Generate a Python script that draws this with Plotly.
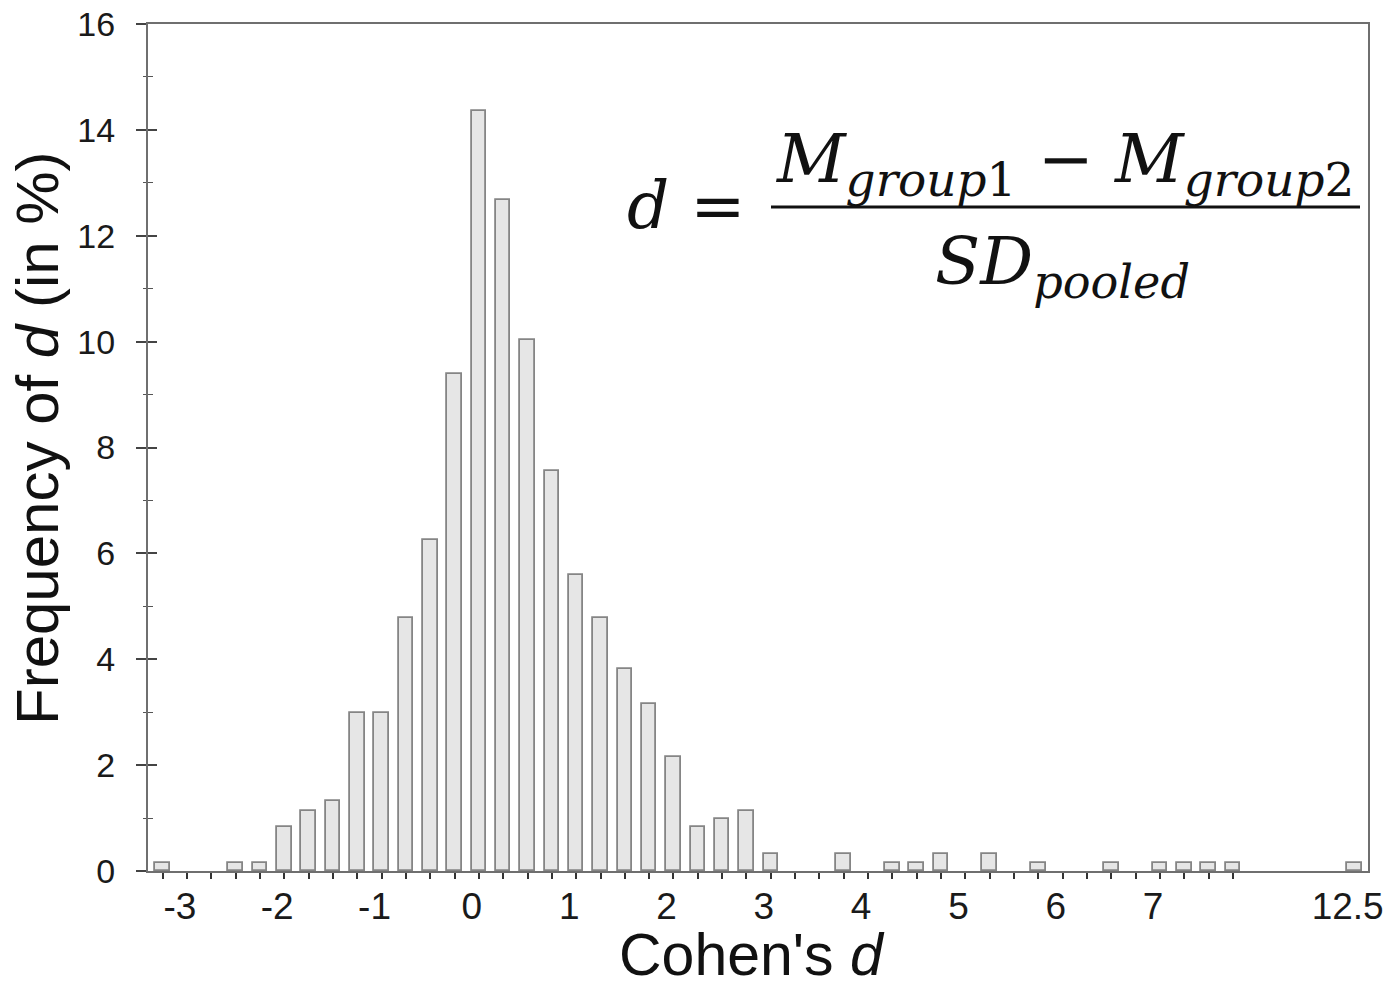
import plotly.graph_objects as go

# ---- data ----
d_values = [-3.25, -2.5, -2.25, -2.0, -1.75, -1.5, -1.25, -1.0, -0.75, -0.5, -0.25,
            0.0, 0.25, 0.5, 0.75, 1.0, 1.25, 1.5, 1.75, 2.0, 2.25, 2.5, 2.75, 3.0,
            3.75, 4.25, 4.5, 4.75, 5.25, 5.75, 6.5, 7.0, 7.25, 7.5, 7.75, 12.5]
freq_pct = [0.15, 0.15, 0.15, 0.83, 1.13, 1.32, 2.98, 2.98, 4.78, 6.26, 9.38,
            14.36, 12.67, 10.03, 7.55, 5.59, 4.78, 3.81, 3.16, 2.15, 0.83, 0.99, 1.13, 0.32,
            0.32, 0.16, 0.15, 0.32, 0.32, 0.15, 0.15, 0.15, 0.15, 0.15, 0.15, 0.15]
x_tick_values = [-3, -2, -1, 0, 1, 2, 3, 4, 5, 6, 7, 12.5]
x_tick_labels = ["-3", "-2", "-1", "0", "1", "2", "3", "4", "5", "6", "7", "12.5"]
x_minor_grid = [k / 4 for k in range(-13, 32)]   # -3.25 ... 7.75 in steps of 0.25
y_tick_values = [0, 2, 4, 6, 8, 10, 12, 14, 16]
y_minor_values = [1, 3, 5, 7, 9, 11, 13, 15]

# broken x axis: everything above 8 is pulled in by 3.5 units
BREAK_AT, BREAK_GAP = 8.0, 3.5
def axis_pos(v):
    return v - BREAK_GAP if v > BREAK_AT else v

bar_x = [axis_pos(v) for v in d_values]
tick_x = [axis_pos(v) for v in x_tick_values]

SANS = "Liberation Sans, Arial, sans-serif"
SERIF = "DejaVu Serif, serif"
AXIS_COL = "#6f6f6f"

# page body has an 8px margin; plot area should land at x 148..1368, y 24..871
OFF = 8
W, H = 1391 - OFF, 982 - OFF
ML, MR, MT, MB = 148 - OFF, 23, 24 - OFF, 982 - 871

fig = go.Figure()
fig.add_trace(go.Bar(
    x=bar_x, y=freq_pct, width=0.15,
    marker=dict(color="#e6e6e6", line=dict(color="#858585", width=1.8)),
    showlegend=False, hoverinfo="skip",
))
# helper trace so the overlay axis (inner halves of the y ticks) is drawn
fig.add_trace(go.Scatter(x=[None], y=[None], yaxis="y2", showlegend=False, hoverinfo="skip"))

fig.update_layout(
    width=W, height=H,
    margin=dict(l=ML, r=MR, t=MT, b=MB, pad=0, autoexpand=False),
    paper_bgcolor="white", plot_bgcolor="white",
    bargap=0,
    xaxis=dict(
        range=[-3.40, 9.137], showgrid=False, zeroline=False, automargin=False,
        showline=True, linecolor=AXIS_COL, linewidth=2, mirror=True,
        tickmode="array", tickvals=tick_x, ticktext=x_tick_labels,
        ticks="", ticklabelshift=-7, ticklabelstandoff=2, ticklabeloverflow="allow",
        tickfont=dict(family=SANS, size=37, color="#1a1a1a"),
        minor=dict(tickmode="array", tickvals=x_minor_grid, ticks="outside",
                   ticklen=6, tickwidth=1.6, tickcolor="#333333", showgrid=False),
    ),
    yaxis=dict(
        range=[0, 16], showgrid=False, zeroline=False, automargin=False,
        showline=True, linecolor=AXIS_COL, linewidth=2, mirror=True,
        tickmode="array", tickvals=y_tick_values, ticklabeloverflow="allow",
        ticks="outside", ticklen=10, tickwidth=1.6, tickcolor="#444444",
        tickfont=dict(family=SANS, size=34, color="#1a1a1a"),
        ticklabelstandoff=14,
        minor=dict(tickmode="array", tickvals=y_minor_values, ticks="outside",
                   ticklen=3, tickwidth=1.4, tickcolor="#555555", showgrid=False),
    ),
    yaxis2=dict(
        range=[0, 16], overlaying="y", anchor="x", side="left", automargin=False,
        showgrid=False, zeroline=False, showline=False, showticklabels=False,
        tickmode="array", tickvals=y_tick_values,
        ticks="inside", ticklen=9, tickwidth=1.6, tickcolor="#444444",
        minor=dict(tickmode="array", tickvals=y_minor_values, ticks="inside",
                   ticklen=5, tickwidth=1.4, tickcolor="#555555", showgrid=False),
    ),
)

# helpers: screenshot pixel -> paper coordinates of the plot area
def px_x(px):
    return (px - 148) / 1220.0

def px_y(py):
    return (871 - py) / 847.0

# axis titles
fig.add_annotation(text="Cohen's <i>d</i>", xref="paper", yref="paper",
                   x=px_x(752), y=px_y(955), xanchor="center", yanchor="middle",
                   showarrow=False, font=dict(family=SANS, size=59, color="#111111"))
fig.add_annotation(text="Frequency of <i>d</i> (in %)", xref="paper", yref="paper",
                   x=px_x(37), y=px_y(438), xanchor="center", yanchor="middle",
                   textangle=-90, showarrow=False,
                   font=dict(family=SANS, size=60, color="#111111"))

# formula
fig.add_shape(type="line", xref="paper", yref="paper",
              x0=px_x(771), x1=px_x(1360), y0=px_y(207), y1=px_y(207),
              line=dict(color="#111111", width=3))
fig.add_annotation(text="<i>M</i><sub><i>group</i>1</sub> − <i>M</i><sub><i>group</i>2</sub>",
                   xref="paper", yref="paper", x=px_x(1064), y=px_y(209),
                   xanchor="center", yanchor="bottom", showarrow=False,
                   font=dict(family=SERIF, size=67, color="#111111"))
fig.add_annotation(text="<i>SD</i><sub><i>pooled</i></sub>",
                   xref="paper", yref="paper", x=px_x(1062), y=px_y(221),
                   xanchor="center", yanchor="top", showarrow=False,
                   font=dict(family=SERIF, size=66, color="#111111"))
fig.add_annotation(text="<i>d</i> =",
                   xref="paper", yref="paper", x=px_x(686), y=px_y(206),
                   xanchor="center", yanchor="middle", showarrow=False,
                   font=dict(family=SERIF, size=66, color="#111111"))

fig.write_html("out.html")
